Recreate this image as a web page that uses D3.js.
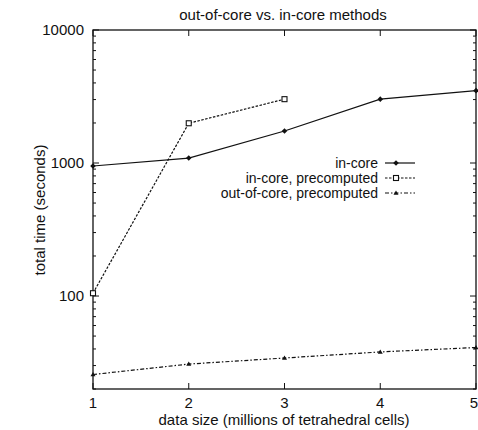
<!DOCTYPE html>
<html><head><meta charset="utf-8">
<script src="https://cdn.jsdelivr.net/npm/d3@7"></script>
<style>body{margin:0;background:#fff}svg text{font-family:"Liberation Sans",Arial,sans-serif;fill:#111}</style>
</head><body><svg id="c" width="478" height="430"></svg>
<script>
const xValues = [1, 2, 3, 4, 5];
const inCore = [950, 1090, 1740, 3020, 3500];
const inCorePre = [105, 1990, 3020];
const outCorePre = [25.7, 30.8, 34.2, 38, 41];
const xTicks = [1, 2, 3, 4, 5];
const yTicks = [100, 1000, 10000];
const seriesNames = ["in-core", "in-core, precomputed", "out-of-core, precomputed"];

const svg = d3.select("#c");
const L = 93, R = 476, T = 30, B = 389;
const x = d3.scaleLinear().domain([1, 5]).range([L, R]);
const y = d3.scaleLog().domain([20, 10000]).range([B, T]);
const ink = "#111";

svg.append("rect").attr("x", L).attr("y", T).attr("width", R - L).attr("height", B - T)
  .attr("fill", "none").attr("stroke", ink).attr("stroke-width", 1.3);

const minor = [];
for (let d = 10; d <= 1000; d *= 10) for (let k = 2; k <= 9; k++) { const v = k * d; if (v >= 20 && v < 10000) minor.push(v); }
const g = svg.append("g").attr("stroke", ink).attr("stroke-width", 1);
minor.forEach(v => {
  g.append("line").attr("x1", L).attr("x2", L + 3).attr("y1", y(v)).attr("y2", y(v));
  g.append("line").attr("x1", R).attr("x2", R - 3).attr("y1", y(v)).attr("y2", y(v));
});
yTicks.forEach(v => {
  g.append("line").attr("x1", L).attr("x2", L + 6).attr("y1", y(v)).attr("y2", y(v));
  g.append("line").attr("x1", R).attr("x2", R - 6).attr("y1", y(v)).attr("y2", y(v));
  svg.append("text").attr("x", L - 9).attr("y", y(v)).attr("dy", "0.35em")
    .attr("text-anchor", "end").attr("font-size", 15).text(v);
});
xTicks.forEach((v, i) => {
  g.append("line").attr("x1", x(v)).attr("x2", x(v)).attr("y1", B).attr("y2", B - 6);
  g.append("line").attr("x1", x(v)).attr("x2", x(v)).attr("y1", T).attr("y2", T + 6);
  const last = i === xTicks.length - 1;
  svg.append("text").attr("x", last ? 478 : x(v)).attr("y", B + 19)
    .attr("text-anchor", last ? "end" : "middle").attr("font-size", 15).text(v);
});

svg.append("text").attr("x", 283).attr("y", 20).attr("text-anchor", "middle").attr("font-size", 15)
  .text("out-of-core vs. in-core methods");
svg.append("text").attr("x", 284).attr("y", 425).attr("text-anchor", "middle").attr("font-size", 15)
  .text("data size (millions of tetrahedral cells)");
svg.append("text").attr("transform", "translate(45,210) rotate(-90)").attr("text-anchor", "middle")
  .attr("font-size", 15).text("total time (seconds)");

const line = d3.line().x(d => x(d[0])).y(d => y(d[1]));
const styles = [
  { data: d3.zip(xValues, inCore), dash: null, marker: "diamond" },
  { data: d3.zip(xValues.slice(0, inCorePre.length), inCorePre), dash: "2.5,1.5", marker: "square" },
  { data: d3.zip(xValues, outCorePre), dash: "4,2,1.5,2", marker: "triangle" }
];
function drawMarker(sel, type, cx, cy) {
  if (type === "diamond") sel.append("path").attr("d", `M${cx},${cy-2.8}L${cx+2.8},${cy}L${cx},${cy+2.8}L${cx-2.8},${cy}Z`).attr("fill", ink);
  else if (type === "square") sel.append("rect").attr("x", cx - 2.5).attr("y", cy - 2.5).attr("width", 5).attr("height", 5)
    .attr("fill", "#fff").attr("stroke", ink).attr("stroke-width", 1.1);
  else sel.append("path").attr("d", `M${cx},${cy-2.5}L${cx+2.5},${cy+1.8}L${cx-2.5},${cy+1.8}Z`).attr("fill", ink);
}
styles.forEach(s => {
  svg.append("path").datum(s.data).attr("d", line).attr("fill", "none").attr("stroke", ink)
    .attr("stroke-width", 1.2).attr("stroke-dasharray", s.dash);
  s.data.forEach(d => drawMarker(svg, s.marker, x(d[0]), y(d[1])));
});

const legY = [163, 178, 193];
seriesNames.forEach((n, i) => {
  svg.append("text").attr("x", 378).attr("y", legY[i]).attr("dy", "0.35em").attr("text-anchor", "end")
    .attr("font-size", 14).text(n);
  svg.append("line").attr("x1", 385).attr("x2", 415).attr("y1", legY[i]).attr("y2", legY[i])
    .attr("stroke", ink).attr("stroke-width", 1.2).attr("stroke-dasharray", styles[i].dash);
  drawMarker(svg, styles[i].marker, 396, legY[i]);
});
</script></body></html>
